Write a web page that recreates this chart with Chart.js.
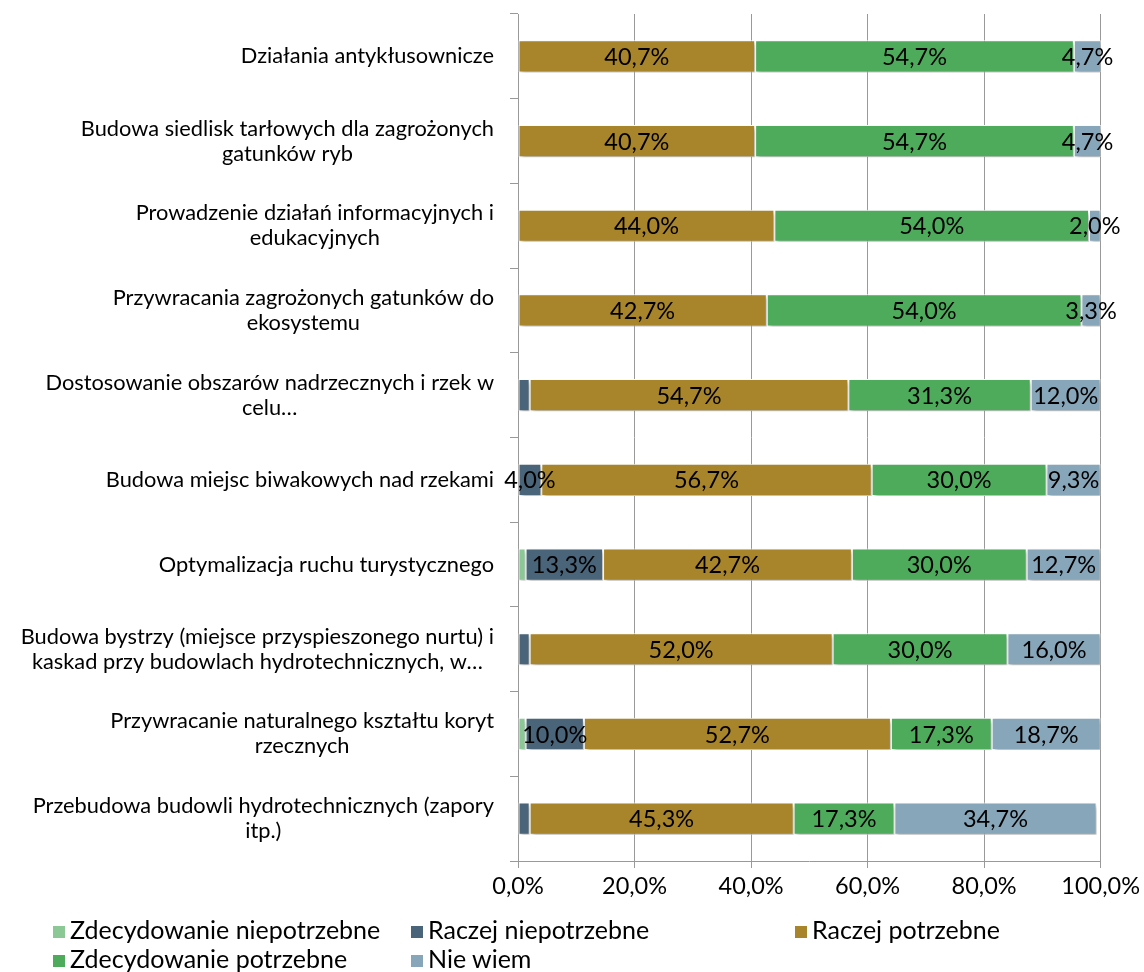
<!DOCTYPE html>
<html>
<head>
<meta charset="utf-8">
<script src="https://cdn.jsdelivr.net/npm/chart.js@4/dist/chart.umd.min.js"></script>
<style>
    body { margin: 0; background: #fff; }
    #wrap { position: relative; width: 1144px; height: 972px; font-family: Lato, "Noto Sans", sans-serif; }
    #legend { position: absolute; left: 0; top: 0; width: 1144px; height: 972px; pointer-events: none; }
    .item { position: absolute; font-size: 25px; color: #000; line-height: 28px; white-space: nowrap; }
    .item span.box { display: inline-block; width: 12px; height: 12px; margin-right: 5px; vertical-align: 1px; }
</style>
</head>
<body>
<div id="wrap">
    <canvas id="chart" width="1144" height="905"></canvas>
    <div id="legend"></div>
</div>
<script>
// categories, top to bottom
const categories = [
    ['Działania antykłusownicze'],
    ['Budowa siedlisk tarłowych dla zagrożonych', 'gatunków ryb'],
    ['Prowadzenie działań informacyjnych i', 'edukacyjnych'],
    ['Przywracania zagrożonych gatunków do', 'ekosystemu'],
    ['Dostosowanie obszarów nadrzecznych i rzek w', 'celu…'],
    ['Budowa miejsc biwakowych nad rzekami'],
    ['Optymalizacja ruchu turystycznego'],
    ['Budowa bystrzy (miejsce przyspieszonego nurtu) i', 'kaskad przy budowlach hydrotechnicznych, w…'],
    ['Przywracanie naturalnego kształtu koryt', 'rzecznych'],
    ['Przebudowa budowli hydrotechnicznych (zapory', 'itp.)']
];

const seriesNames = ['Zdecydowanie niepotrzebne', 'Raczej niepotrzebne', 'Raczej potrzebne', 'Zdecydowanie potrzebne', 'Nie wiem'];
const seriesColors = ['#8cc896', '#4a6479', '#a8852a', '#4fab5c', '#88a6ba'];

const zdecydowanieNiepotrzebne = [0, 0, 0, 0, 0, 0, 1.3, 0, 1.3, 0];
const raczejNiepotrzebne = [0, 0, 0, 0, 2.0, 4.0, 13.3, 2.0, 10.0, 2.0];
const raczejPotrzebne = [40.7, 40.7, 44.0, 42.7, 54.7, 56.7, 42.7, 52.0, 52.7, 45.3];
const zdecydowaniePotrzebne = [54.7, 54.7, 54.0, 54.0, 31.3, 30.0, 30.0, 30.0, 17.3, 17.3];
const nieWiem = [4.7, 4.7, 2.0, 3.3, 12.0, 9.3, 12.7, 16.0, 18.7, 34.7];

const xTicks = [0, 20, 40, 60, 80, 100];

const FONT = 'Lato, "Noto Sans", sans-serif';

function pct(v) {
    return v.toFixed(1).replace('.', ',') + '%';
}

const seriesValues = [zdecydowanieNiepotrzebne, raczejNiepotrzebne, raczejPotrzebne, zdecydowaniePotrzebne, nieWiem];

// soft shadow under the bars
const shadowPlugin = {
    id: 'barShadow',
    beforeDatasetsDraw(chart) {
        const ctx = chart.ctx;
        ctx.save();
        ctx.shadowColor = 'rgba(0,0,0,0.28)';
        ctx.shadowBlur = 4;
        ctx.shadowOffsetX = 2;
        ctx.shadowOffsetY = 3;
    },
    afterDatasetsDraw(chart) {
        chart.ctx.restore();
    }
};

// value labels in the middle of each segment
const labelPlugin = {
    id: 'segLabels',
    afterDatasetsDraw(chart) {
        const ctx = chart.ctx;
        ctx.save();
        ctx.font = '23.5px ' + FONT;
        ctx.fillStyle = '#000';
        ctx.textAlign = 'center';
        ctx.textBaseline = 'middle';
        chart.data.datasets.forEach((ds, di) => {
            const meta = chart.getDatasetMeta(di);
            meta.data.forEach((bar, i) => {
                const v = ds.data[i];
                if (!v || di === 0) return;
                if (di === 1 && v < 3) return;
                ctx.fillText(pct(v), (bar.x + bar.base) / 2, bar.y + 1);
            });
        });
        ctx.restore();
    }
};

// category labels: block right-aligned to the axis, lines centred inside the block (Excel style)
const categoryLabelPlugin = {
    id: 'catLabels',
    afterDraw(chart) {
        const ctx = chart.ctx;
        const y = chart.scales.y;
        const lineH = 25;
        ctx.save();
        ctx.font = '21.8px ' + FONT;
        ctx.fillStyle = '#000';
        ctx.textAlign = 'center';
        ctx.textBaseline = 'middle';
        categories.forEach((lines, i) => {
            const right = y.right - 8 - 16;
            const w = Math.max(...lines.map(l => ctx.measureText(l).width));
            const cx = right - w / 2;
            const cy = y.getPixelForTick(i);
            lines.forEach((l, k) => {
                ctx.fillText(l, cx, cy + (k - (lines.length - 1) / 2) * lineH);
            });
        });
        ctx.restore();
    }
};

new Chart(document.getElementById('chart'), {
    type: 'bar',
    data: {
        labels: categories,
        datasets: seriesNames.map((name, i) => ({
            label: name,
            data: seriesValues[i],
            backgroundColor: seriesColors[i],
            borderColor: '#ffffff',
            borderWidth: 1,
            borderSkipped: false,
            barPercentage: 0.38,
            categoryPercentage: 1
        }))
    },
    options: {
        indexAxis: 'y',
        responsive: false,
        animation: false,
        layout: {
            padding: { top: 14, right: 41, left: 0, bottom: 0 }
        },
        plugins: {
            legend: { display: false },
            tooltip: { enabled: false }
        },
        scales: {
            x: {
                stacked: true,
                min: 0,
                max: 100,
                afterBuildTicks: s => { s.ticks = xTicks.map(v => ({ value: v })); },
                afterFit: s => { s.height = 44; },
                ticks: {
                    color: '#000',
                    padding: 4,
                    font: { family: FONT, size: 23.5 },
                    callback: v => pct(v)
                },
                grid: {
                    color: '#999',
                    tickLength: 7
                },
                border: { color: '#999' }
            },
            y: {
                stacked: true,
                afterFit: s => {
                    s.width = 518;
                    s.paddingTop = 0;
                    s.paddingBottom = 0;
                },
                ticks: {
                    display: false
                },
                grid: {
                    offset: true,
                    drawOnChartArea: false,
                    color: '#999',
                    tickLength: 8
                },
                border: { color: '#999' }
            }
        }
    },
    plugins: [shadowPlugin, labelPlugin, categoryLabelPlugin]
});

// legend laid out in columns like the original
const legendCols = [53, 411, 795];
const legendRows = [915, 944];
const legend = document.getElementById('legend');
seriesNames.forEach((name, i) => {
    const el = document.createElement('div');
    el.className = 'item';
    el.style.left = legendCols[i % 3] + 'px';
    el.style.top = legendRows[Math.floor(i / 3)] + 'px';
    el.innerHTML = '<span class="box" style="background:' + seriesColors[i] + '"></span>' + name;
    legend.appendChild(el);
});
</script>
</body>
</html>
